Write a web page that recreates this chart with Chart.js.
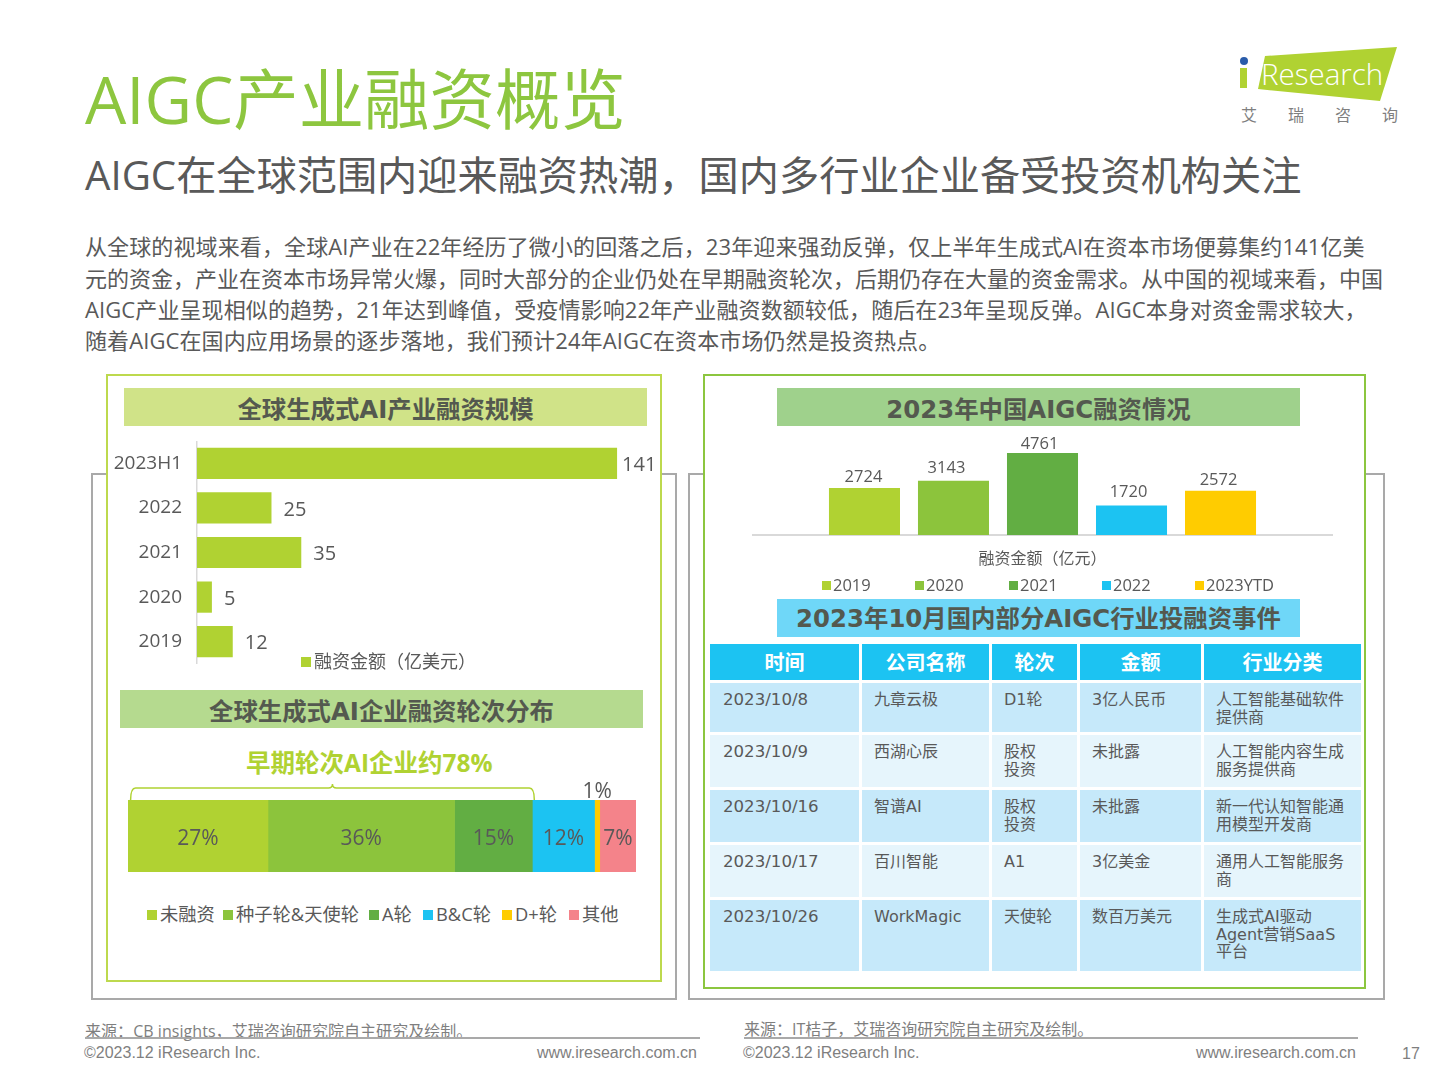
<!DOCTYPE html>
<html lang="zh">
<head>
<meta charset="utf-8">
<title>AIGC产业融资概览</title>
<script src="https://cdn.jsdelivr.net/npm/chart.js@4"></script>
<style>
html, body { margin: 0; padding: 0; background: #fff; }
#page { position: relative; width: 1440px; height: 1080px; overflow: hidden; background: #fff; color: #595959;
  font-family: "Open Sans", "Noto Sans CJK SC", sans-serif; }
#page > * { position: absolute; }
.t { white-space: nowrap; line-height: 1; }
.band { font-family: "DejaVu Sans", "Noto Sans CJK SC", sans-serif; font-weight: 700; font-size: 24.4px; color: #54594f; text-align: center; line-height: 43px; height: 38px; width: 523px; }
.frame { border: 2px solid #a9a9a9; box-sizing: border-box; background: #fff; }
.box { box-sizing: border-box; background: #fff; }
.legend { white-space: nowrap; line-height: 1; }
.legend i { display: inline-block; vertical-align: 1px; }
canvas { display: block; }
table { border-collapse: separate; border-spacing: 3px; table-layout: fixed; font-family: "DejaVu Sans", "Noto Sans CJK SC", sans-serif; font-size: 16px; color: #595959; }
td, th { padding: 0; box-sizing: border-box; }
th { background: #1cc3f2; color: #fff; font-family: "Noto Sans CJK SC", sans-serif; font-size: 20px; font-weight: 700; height: 36px; line-height: 36px; }
td { vertical-align: top; padding: 8px 2px 0 12px; line-height: 17.5px; white-space: pre; }
td:first-child { padding-left: 13px; font-size: 16.6px; }
tr.odd td { background: #c6e9fa; }
tr.even td { background: #e6f5fc; }
.foot { font-family: "Liberation Sans", "Noto Sans CJK SC", sans-serif; color: #7f7f7f; font-size: 16px; white-space: nowrap; line-height: 1; }
.src { font-size: 16px; color: #7f7f7f; white-space: nowrap; line-height: 1; font-family: "Open Sans", "Noto Sans CJK SC", sans-serif; }
.rule { height: 2px; background: #a9a9a9; }
</style>
</head>
<body>
<div id="page">
  <div class="t" style="left:85px;top:66px;font-size:65.4px;color:#8dc63f;">AIGC产业融资概览</div>
  <div class="t" style="left:85px;top:155px;font-size:40.2px;">AIGC在全球范围内迎来融资热潮，国内多行业企业备受投资机构关注</div>

  <svg style="left:1230px;top:40px;" width="180" height="62">
    <polygon points="35,16 167,7 150,61 28,49" fill="#b0d232"></polygon>
    <circle cx="14" cy="21" r="4" fill="#2a5caa"></circle>
    <rect x="10" y="28" width="7" height="20" fill="#b0d232"></rect>
    <text x="31" y="45" font-size="29.5" fill="#fff" font-family="Open Sans" font-weight="300">Research</text>
  </svg>
  <div class="t" style="left:1241px;top:107px;font-size:16px;color:#7f7f7f;">艾</div>
  <div class="t" style="left:1288px;top:107px;font-size:16px;color:#7f7f7f;">瑞</div>
  <div class="t" style="left:1335px;top:107px;font-size:16px;color:#7f7f7f;">咨</div>
  <div class="t" style="left:1382px;top:107px;font-size:16px;color:#7f7f7f;">询</div>

  <div class="t" style="left:85px;top:235px;font-size:22px;letter-spacing:0.12px;">从全球的视域来看，全球AI产业在22年经历了微小的回落之后，23年迎来强劲反弹，仅上半年生成式AI在资本市场便募集约141亿美</div>
  <div class="t" style="left:85px;top:267px;font-size:22px;">元的资金，产业在资本市场异常火爆，同时大部分的企业仍处在早期融资轮次，后期仍存在大量的资金需求。从中国的视域来看，中国</div>
  <div class="t" style="left:85px;top:298px;font-size:22px;letter-spacing:0.1px;">AIGC产业呈现相似的趋势，21年达到峰值，受疫情影响22年产业融资数额较低，随后在23年呈现反弹。AIGC本身对资金需求较大，</div>
  <div class="t" style="left:85px;top:329px;font-size:22px;letter-spacing:0.1px;">随着AIGC在国内应用场景的逐步落地，我们预计24年AIGC在资本市场仍然是投资热点。</div>

  <div class="frame" style="left:91px;top:473px;width:586px;height:527px;"></div>
  <div class="frame" style="left:688px;top:473px;width:697px;height:527px;"></div>
  <div class="box" style="left:106px;top:374px;width:556px;height:608px;border:2.5px solid #bdd94e;"></div>
  <div class="box" style="left:703px;top:374px;width:663px;height:615px;border:2.5px solid #8cc63f;"></div>

  <div class="band" style="left:124px;top:388px;background:#d0e388;">全球生成式AI产业融资规模</div>
  <div class="band" style="left:120px;top:690px;background:#b5da8f;">全球生成式AI企业融资轮次分布</div>
  <div class="band" style="left:777px;top:388px;background:#9fd18c;">2023年中国AIGC融资情况</div>
  <div class="band" style="left:777px;top:599px;background:#6fd7f8;line-height:39px;">2023年10月国内部分AIGC行业投融资事件</div>
  <div class="t" style="left:246px;top:751px;font-size:24.5px;font-weight:700;color:#b0d232;">早期轮次AI企业约78%</div>

  <canvas id="globalChart" width="550" height="223" style="left:107px;top:441px;"></canvas>
  <canvas id="roundChart" width="550" height="97" style="left:107px;top:775px;"></canvas>
  <canvas id="chinaChart" width="581" height="145" style="left:752px;top:430px;"></canvas>
  <table id="events" style="left:707px;top:641px;"></table>

  <div class="src" style="left:85px;top:1023px;letter-spacing:0.05px;">来源：CB insights，艾瑞咨询研究院自主研究及绘制。</div>
  <div class="rule" style="left:85px;top:1037px;width:615px;"></div>
  <div class="foot" style="left:84px;top:1045px;">©2023.12 iResearch Inc.</div>
  <div class="foot" style="right:743px;top:1045px;">www.iresearch.com.cn</div>
  <div class="src" style="left:744px;top:1021px;">来源：IT桔子，艾瑞咨询研究院自主研究及绘制。</div>
  <div class="rule" style="left:744px;top:1037px;width:614px;"></div>
  <div class="foot" style="left:743px;top:1045px;">©2023.12 iResearch Inc.</div>
  <div class="foot" style="right:84px;top:1045px;">www.iresearch.com.cn</div>
  <div class="foot" style="left:1402px;top:1046px;">17</div>
</div>

<script>
const FONT = '"Open Sans", "Noto Sans CJK SC", sans-serif';
const TEXT = "#595959";
const LIME = "#b0d232";

// global funding, 亿美元
const globalYears = ["2023H1", "2022", "2021", "2020", "2019"];
const globalValues = [141, 25, 35, 5, 12];
const globalSeries = "融资金额（亿美元）";

// global funding rounds, %
const roundNames = ["未融资", "种子轮&天使轮", "A轮", "B&C轮", "D+轮", "其他"];
const roundValues = [27, 36, 15, 12, 1, 7];
const roundColors = [LIME, "#8cc43c", "#62ae43", "#1cc3f2", "#ffcc00", "#f4838a"];
const earlyShare = 78;

// China funding, 亿元
const chinaYears = ["2019", "2020", "2021", "2022", "2023YTD"];
const chinaValues = [2724, 3143, 4761, 1720, 2572];
const chinaColors = [LIME, "#8cc43c", "#62ae43", "#1cc3f2", "#ffcc00"];
const chinaAxisLabel = "融资金额（亿元）";

const eventHeader = ["时间", "公司名称", "轮次", "金额", "行业分类"];
const eventRows = [
    ["2023/10/8", "九章云极", "D1轮", "3亿人民币", "人工智能基础软件\n提供商"],
    ["2023/10/9", "西湖心辰", "股权\n投资", "未批露", "人工智能内容生成\n服务提供商"],
    ["2023/10/16", "智谱AI", "股权\n投资", "未批露", "新一代认知智能通\n用模型开发商"],
    ["2023/10/17", "百川智能", "A1", "3亿美金", "通用人工智能服务\n商"],
    ["2023/10/26", "WorkMagic", "天使轮", "数百万美元", "生成式AI驱动\nAgent营销SaaS\n平台"],
];

Chart.defaults.animation = false;
Chart.defaults.font.family = FONT;
Chart.defaults.color = TEXT;
Chart.defaults.plugins.legend.display = false;
Chart.defaults.plugins.tooltip.enabled = false;
Chart.defaults.responsive = false;

// html legend, same labels the chart would give its own legend
function placeLegend(chart, lefts, top, fontSize, boxSize, boxGap) {
    const page = document.getElementById("page");
    Chart.defaults.plugins.legend.labels.generateLabels(chart).forEach((item, i) => {
        const el = document.createElement("div");
        el.className = "legend";
        el.style.cssText = `left:${lefts[i]}px;top:${top}px;font-size:${fontSize}px;`;
        const swatch = document.createElement("i");
        swatch.style.cssText = `background:${item.fillStyle};width:${boxSize}px;height:${boxSize}px;margin-right:${boxGap}px;`;
        el.appendChild(swatch);
        el.appendChild(document.createTextNode(item.text));
        page.appendChild(el);
    });
}

const globalLabels = {
    id: "globalLabels",
    afterDatasetsDraw(chart) {
        const { ctx } = chart;
        ctx.save();
        ctx.font = `20px ${FONT}`;
        ctx.fillStyle = TEXT;
        ctx.textBaseline = "middle";
        chart.getDatasetMeta(0).data.forEach((bar, i) => {
            const value = globalValues[i];
            ctx.fillText(String(value), bar.x + (value > 100 ? 5 : 12), bar.y + 2);
        });
        ctx.restore();
    }
};

const roundLabels = {
    id: "roundLabels",
    afterDatasetsDraw(chart) {
        const { ctx, chartArea } = chart;
        const xScale = chart.scales.x;
        ctx.save();
        ctx.font = `21px ${FONT}`;
        ctx.fillStyle = TEXT;
        ctx.textAlign = "center";
        ctx.textBaseline = "middle";
        chart.data.datasets.forEach((dataset, i) => {
            const bar = chart.getDatasetMeta(i).data[0];
            const value = dataset.data[0];
            const mid = (bar.x + bar.base) / 2;
            // the thin segment has no room inside
            const y = value < 3 ? chartArea.top - 8 : bar.y + 3;
            ctx.fillText(`${value}%`, mid, y);
        });
        // brace over the early rounds
        const left = xScale.getPixelForValue(0.5);
        const right = xScale.getPixelForValue(earlyShare) + 2;
        const mid = (left + right) / 2;
        const bottom = chartArea.top;
        const top = bottom - 12;
        ctx.strokeStyle = LIME;
        ctx.lineWidth = 1.5;
        ctx.beginPath();
        ctx.moveTo(left, bottom);
        ctx.quadraticCurveTo(left, top, left + 5, top);
        ctx.lineTo(mid - 4, top);
        ctx.quadraticCurveTo(mid, top, mid, top - 4);
        ctx.quadraticCurveTo(mid, top, mid + 4, top);
        ctx.lineTo(right - 5, top);
        ctx.quadraticCurveTo(right, top, right, bottom);
        ctx.stroke();
        ctx.restore();
    }
};

// the labels are hand placed in the original, not centred over the bars
const chinaLabelShift = [[-1, -2], [-7, -3], [-3, 1], [-3, -4], [-2, -1]];
const chinaLabels = {
    id: "chinaLabels",
    afterDatasetsDraw(chart) {
        const { ctx } = chart;
        ctx.save();
        ctx.font = `16.5px ${FONT}`;
        ctx.fillStyle = TEXT;
        ctx.textAlign = "center";
        ctx.textBaseline = "bottom";
        chart.data.datasets.forEach((dataset, i) => {
            const bar = chart.getDatasetMeta(i).data[0];
            const [dx, dy] = chinaLabelShift[i];
            ctx.fillText(String(dataset.data[0]), bar.x + dx, bar.y - 1 + dy);
        });
        ctx.restore();
    }
};

const globalChart = new Chart(document.getElementById("globalChart"), {
    type: "bar",
    plugins: [globalLabels],
    data: {
        labels: globalYears,
        datasets: [{ label: globalSeries, data: globalValues, backgroundColor: LIME, barPercentage: 1, categoryPercentage: 0.7 }]
    },
    options: {
        indexAxis: "y",
        scales: {
            x: { display: false, min: 0, max: 154.4 },
            y: {
                grid: { display: false },
                border: { color: "#d9d9d9", width: 1.5 },
                ticks: { font: { size: 19 }, color: TEXT, padding: 7 },
                afterFit(scale) {
                    scale.width = 90;
                    scale.paddingTop = 0;
                    scale.paddingBottom = 0;
                }
            }
        }
    }
});
placeLegend(globalChart, [301], 652, 18, 10, 3);

const roundChart = new Chart(document.getElementById("roundChart"), {
    type: "bar",
    plugins: [roundLabels],
    data: {
        labels: ["轮次"],
        datasets: roundNames.map((name, i) => ({
            label: name,
            data: [roundValues[i]],
            backgroundColor: roundColors[i],
            barPercentage: 1,
            categoryPercentage: 1
        }))
    },
    options: {
        indexAxis: "y",
        layout: { padding: { left: 21, right: 21, top: 25 } },
        scales: {
            x: { display: false, stacked: true, min: 0, max: 98 },
            y: { display: false, stacked: true }
        }
    }
});
placeLegend(roundChart, [147, 223, 369, 423, 502, 569], 905, 18.3, 10, 3);

const chinaChart = new Chart(document.getElementById("chinaChart"), {
    type: "bar",
    plugins: [chinaLabels],
    data: {
        labels: [chinaAxisLabel],
        datasets: chinaYears.map((year, i) => ({
            label: year,
            data: [chinaValues[i]],
            backgroundColor: chinaColors[i],
            barPercentage: 0.798,
            categoryPercentage: 0.766
        }))
    },
    options: {
        scales: {
            y: { display: false, min: 0, max: 6097 },
            x: {
                grid: { display: false },
                border: { color: "#d9d9d9", width: 2 },
                ticks: { font: { size: 16 }, color: TEXT, padding: 7, maxRotation: 0 },
                afterFit(scale) {
                    scale.height = 40;
                }
            }
        }
    }
});
placeLegend(chinaChart, [822, 915, 1009, 1102, 1195], 577, 16.5, 9, 2);

// event table, not a chart so plain html
const colWidths = [149, 127, 85, 121, 157];
const rowHeights = [49, 52, 52, 52, 71];
const table = document.getElementById("events");
const headRow = table.insertRow();
eventHeader.forEach((text, i) => {
    const th = document.createElement("th");
    th.textContent = text;
    th.style.width = `${colWidths[i]}px`;
    headRow.appendChild(th);
});
eventRows.forEach((row, r) => {
    const tr = table.insertRow();
    tr.className = r % 2 ? "even" : "odd";
    tr.style.height = `${rowHeights[r]}px`;
    row.forEach(text => {
        tr.insertCell().textContent = text;
    });
});
</script>
</body>
</html>
